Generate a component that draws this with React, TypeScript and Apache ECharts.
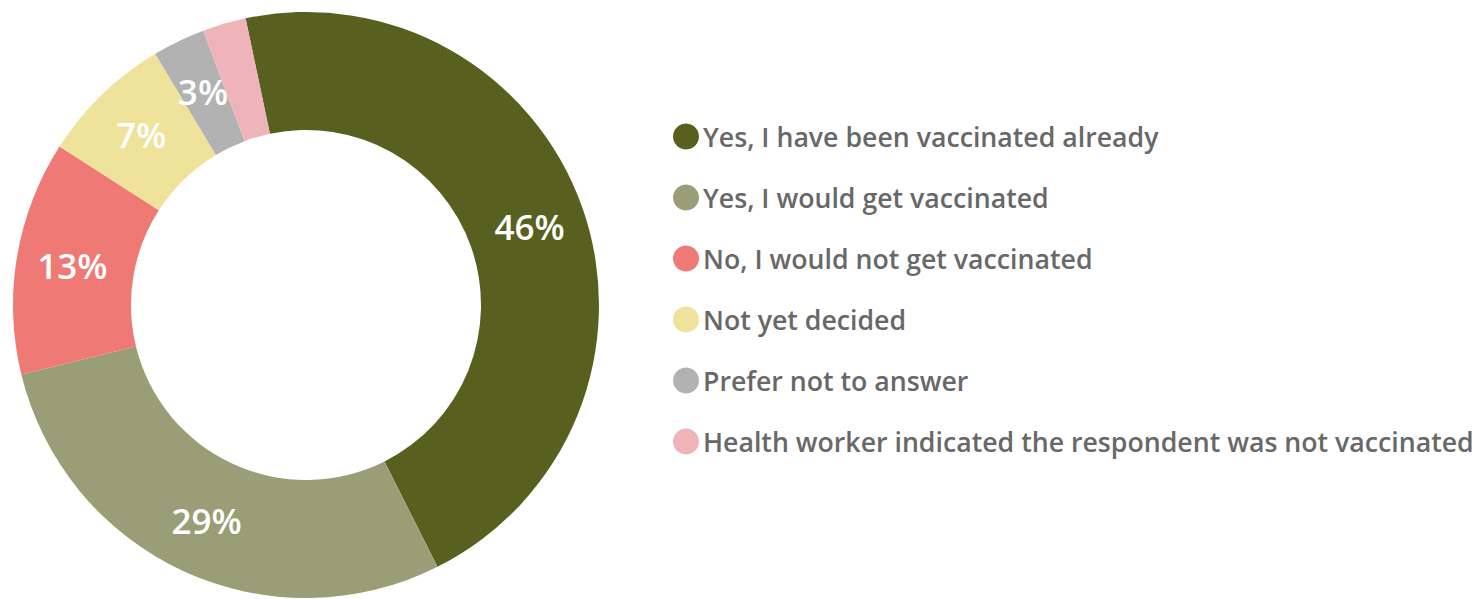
import React, { useEffect, useRef } from "react";
import * as echarts from "echarts";

const categories = [
  "Yes, I have been vaccinated already",
  "Yes, I would get vaccinated",
  "No, I would not get vaccinated",
  "Not yet decided",
  "Prefer not to answer",
  "Health worker indicated the respondent was not vaccinated",
];
const values = [45.9, 28.6, 12.9, 7.3, 2.9, 2.4];
const showLabel = [true, true, true, true, true, false];
const colors = ["#57601f", "#999e77", "#ee7975", "#efe29b", "#b2b2b2", "#eeb4ba"];

export default function App() {
  const ref = useRef<HTMLDivElement>(null);
  useEffect(() => {
    if (!ref.current) return;
    const chart = echarts.init(ref.current, undefined, { renderer: "svg" });
    chart.setOption({
      animation: false,
      legend: {
        orient: "vertical",
        left: 673,
        top: 123,
        padding: 0,
        icon: "circle",
        itemWidth: 26,
        itemHeight: 26,
        itemGap: 34,
        selectedMode: false,
        textStyle: {
          fontFamily: "Open Sans",
          fontSize: 26.7,
          fontWeight: 600,
          color: "#686868",
          lineHeight: 27,
          padding: [0, 0, 0, -1],
        },
        data: categories,
      },
      series: [
        {
          type: "pie",
          center: [306, 305],
          radius: [175, 293],
          startAngle: 101.9,
          clockwise: true,
          avoidLabelOverlap: false,
          label: {
            position: "inside",
            color: "#ffffff",
            fontFamily: "Open Sans",
            fontSize: 35,
            fontWeight: 600,
            formatter: (p: any) => Math.round(p.value) + "%",
          },
          labelLine: { show: false },
          emphasis: { disabled: true },
          data: categories.map((c, i) => ({
            name: c,
            value: values[i],
            itemStyle: { color: colors[i] },
            label: { show: showLabel[i] },
          })),
        },
      ],
    });
    return () => chart.dispose();
  }, []);
  return (
    <div
      ref={ref}
      style={{ position: "absolute", left: 0, top: 0, width: 1477, height: 599, background: "#fff" }}
    />
  );
}
